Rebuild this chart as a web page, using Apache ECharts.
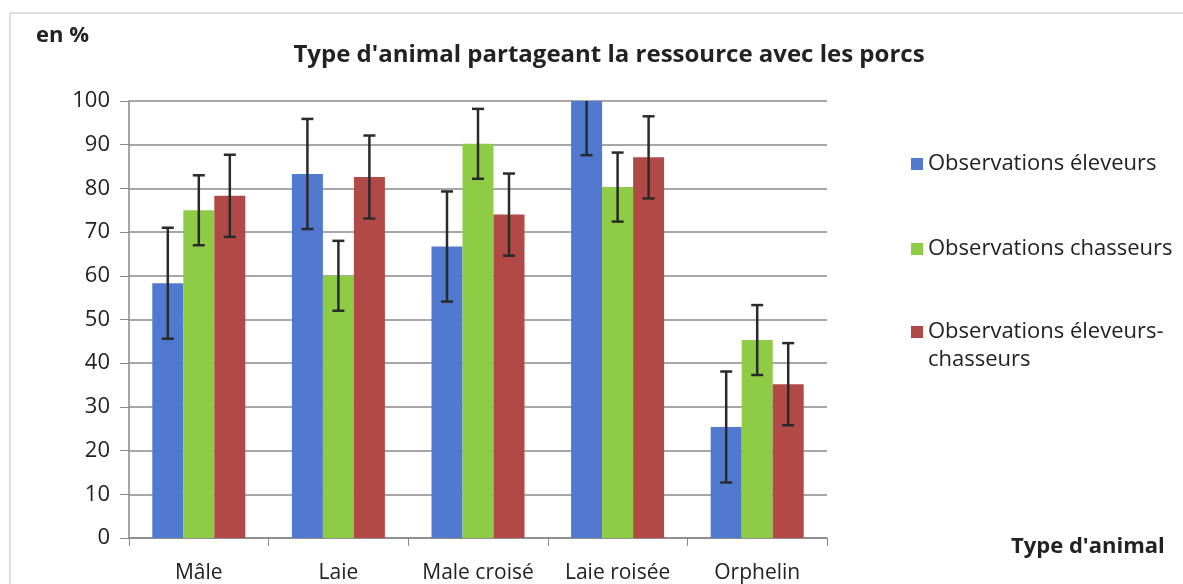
<!DOCTYPE html>
<html>
<head>
<meta charset="utf-8">
<title>Type d'animal partageant la ressource avec les porcs</title>
<script src="https://cdn.jsdelivr.net/npm/echarts@6/dist/echarts.min.js"></script>
<style>
  html, body { margin: 0; padding: 0; background: #fff; }
  #chart { width: 1183px; height: 584px; }
</style>
</head>
<body>
<div id="chart"></div>
<script>
// catégories et valeurs (en %)
var categories = ['Mâle', 'Laie', 'Male croisé', 'Laie roisée', 'Orphelin'];
var seriesNames = ['Observations éleveurs', 'Observations chasseurs', 'Observations éleveurs-chasseurs'];
var eleveurs = [58.3, 83.3, 66.7, 100, 25.4];
var chasseurs = [75, 60, 90.2, 80.3, 45.3];
var eleveursChasseurs = [78.3, 82.6, 74, 87.1, 35.2];
// demi-largeur des barres d'erreur
var errEleveurs = [12.7, 12.6, 12.6, 12.4, 12.7];
var errChasseurs = [8, 8, 8, 7.9, 8];
var errEleveursChasseurs = [9.4, 9.5, 9.4, 9.4, 9.4];

var colors = ['#5279d0', '#8fcc45', '#b14a46'];
var barW = 31;
var font = '"Open Sans", "Noto Sans", sans-serif';

var chart = echarts.init(document.getElementById('chart'));

// barre d'erreur en I, décalée selon la position de la barre dans le groupe
function errorSeries(name, values, errs, idx) {
    var data = values.map(function (v, i) {
        return [i, v - errs[i], v + errs[i]];
    });
    return {
        name: name,
        type: 'custom',
        z: 10,
        silent: true,
        clip: true,
        data: data,
        renderItem: function (params, api) {
            var x = api.value(0);
            var lo = api.coord([x, api.value(1)]);
            var hi = api.coord([x, api.value(2)]);
            var cx = lo[0] + (idx - 1) * barW;
            var cap = 6;
            var style = { stroke: '#2a2a2a', lineWidth: 2.5 };
            return {
                type: 'group',
                children: [
                    { type: 'line', shape: { x1: cx, y1: lo[1], x2: cx, y2: hi[1] }, style: style },
                    { type: 'line', shape: { x1: cx - cap, y1: lo[1], x2: cx + cap, y2: lo[1] }, style: style },
                    { type: 'line', shape: { x1: cx - cap, y1: hi[1], x2: cx + cap, y2: hi[1] }, style: style }
                ]
            };
        }
    };
}

function barSeries(name, values, idx) {
    return {
        name: name,
        type: 'bar',
        data: values,
        barWidth: barW,
        barGap: '0%',
        itemStyle: { color: colors[idx] }
    };
}

var legendBase = {
    orient: 'vertical',
    left: 906,
    itemWidth: 12,
    itemHeight: 12,
    itemGap: 57,
    icon: 'rect',
    textStyle: { fontSize: 22, color: '#222', fontFamily: font, lineHeight: 28 }
};

chart.setOption({
    backgroundColor: '#fff',
    animation: false,
    textStyle: { fontFamily: font },
    graphic: [
        {
            type: 'rect',
            shape: { x: 10, y: 13, width: 1190, height: 600 },
            style: { fill: 'none', stroke: '#bdbdbd', lineWidth: 1 }
        },
        {
            type: 'text', left: 36, top: 25,
            style: { text: 'en %', font: 'bold 22px ' + font, fill: '#222' }
        },
        {
            type: 'text', left: 1011, top: 536,
            style: { text: "Type d'animal", font: 'bold 22px ' + font, fill: '#222' }
        }
    ],
    title: {
        text: "Type d'animal partageant la ressource avec les porcs",
        left: 604,
        textAlign: 'center',
        top: 38,
        textStyle: { fontSize: 24, fontWeight: 'bold', color: '#222', fontFamily: font }
    },
    legend: [
        Object.assign({}, legendBase, { top: 145, data: seriesNames.slice(0, 2) }),
        Object.assign({}, legendBase, {
            top: 285,
            data: [seriesNames[2]],
            // ligne vide en tête : le carré reste aligné sur la première ligne de texte
            formatter: function () { return ' \nObservations éleveurs-\nchasseurs'; }
        })
    ],
    grid: { left: 129, right: 356, top: 101, bottom: 45 },
    xAxis: {
        type: 'category',
        data: categories,
        axisLine: { lineStyle: { color: '#888', width: 1.5 } },
        axisTick: { show: true, length: 8, lineStyle: { color: '#888' } },
        axisLabel: { interval: 0, fontSize: 21, color: '#222', margin: 25, fontFamily: font }
    },
    yAxis: {
        type: 'value',
        min: 0,
        max: 100,
        interval: 10,
        axisLine: { show: true, lineStyle: { color: '#888', width: 1.5 } },
        axisTick: { show: true, length: 9, lineStyle: { color: '#888' } },
        axisLabel: { fontSize: 22, color: '#222', margin: 19, fontFamily: font },
        splitLine: { lineStyle: { color: '#8a8a8a', width: 1.5 } }
    },
    series: [
        barSeries(seriesNames[0], eleveurs, 0),
        barSeries(seriesNames[1], chasseurs, 1),
        barSeries(seriesNames[2], eleveursChasseurs, 2),
        errorSeries(seriesNames[0], eleveurs, errEleveurs, 0),
        errorSeries(seriesNames[1], chasseurs, errChasseurs, 1),
        errorSeries(seriesNames[2], eleveursChasseurs, errEleveursChasseurs, 2)
    ]
});
</script>
</body>
</html>
